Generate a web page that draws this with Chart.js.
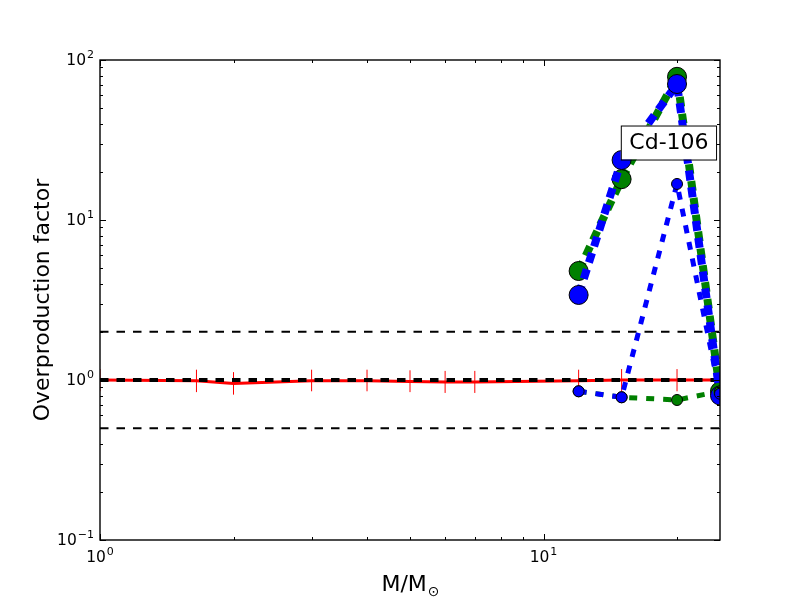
<!DOCTYPE html>
<html>
<head>
<meta charset="utf-8">
<script src="https://cdn.jsdelivr.net/npm/chart.js@4.4.1/dist/chart.umd.min.js"></script>
<style>
  body { margin: 0; background: #fff; }
</style>
</head>
<body>
<canvas id="chart" width="800" height="600"></canvas>
<script>
// solar reference curve (red) with error bars
const masses = [1, 1.65, 2, 3, 4, 5, 6, 7, 12, 15, 20, 25];
const solarRatio = [1.0, 0.99, 0.95, 0.99, 0.99, 0.98, 0.97, 0.97, 0.99, 1.0, 1.0, 1.0];
const solarLow = [0.85, 0.84, 0.81, 0.85, 0.85, 0.84, 0.83, 0.83, 0.85, 0.85, 0.85, 0.85];
const solarHigh = [1.17, 1.16, 1.12, 1.16, 1.16, 1.15, 1.14, 1.14, 1.16, 1.17, 1.17, 1.17];

// massive star models
const modelMasses = [12, 15, 20, 25];
const greenLarge = [4.8, 18.0, 78.5, 0.85];
const blueLarge = [3.4, 23.7, 70.8, 0.80];
const greenSmall = [0.85, 0.78, 0.75, 0.85];
const blueSmall = [0.85, 0.78, 16.8, 0.82];

// horizontal guide levels
const refLevels = [2, 1, 0.5];

// axes
const xRange = [1, 25];
const yRange = [0.1, 100];
const xTicks = [1, 10];
const yTicks = [0.1, 1, 10, 100];
const isotope = 'Cd-106';

const FONT = '"DejaVu Sans", sans-serif';

function pts(xs, ys) {
    return xs.map((x, i) => ({x: x, y: ys[i]}));
}

// datasets listed bottom to top
let layers = [];
layers.push({
    data: pts(masses, solarRatio),
    borderColor: '#ff0000', borderWidth: 3, pointRadius: 0
});
masses.forEach((m, i) => {
    layers.push({
        data: [{x: m, y: solarLow[i]}, {x: m, y: solarHigh[i]}],
        borderColor: '#ff0000', borderWidth: 1, pointRadius: 0
    });
});
refLevels.forEach(lv => {
    layers.push({
        data: [{x: xRange[0], y: lv}, {x: xRange[1], y: lv}],
        borderColor: '#000000', borderWidth: lv === 1 ? 4 : 2,
        borderDash: [8.5, 8], pointRadius: 0
    });
});
function model(ys, color, big) {
    return {
        data: pts(modelMasses, ys),
        borderColor: color,
        borderWidth: big ? 8 : 5,
        borderDash: big ? [10, 7] : [8, 9],
        pointRadius: big ? 9.5 : 5.5,
        pointBackgroundColor: color,
        pointBorderColor: '#000000',
        pointBorderWidth: 1
    };
}
layers.push(model(greenLarge, '#008000', true));
layers.push(model(blueLarge, '#0000ff', true));
layers.push(model(greenSmall, '#008000', false));
layers.push(model(blueSmall, '#0000ff', false));

layers.forEach((d, i) => {
    d.order = layers.length - i;
    d.clip = 0;
    d.tension = 0;
    d.fill = false;
});

function powLabel(ctx, exp, x, y, align) {
    const base = '10';
    const sup = exp < 0 ? '\u2212' + Math.abs(exp) : String(exp);
    ctx.font = '15.5px ' + FONT;
    const wb = ctx.measureText(base).width;
    ctx.font = '11px ' + FONT;
    const ws = ctx.measureText(sup).width;
    const w = wb + ws + 1;
    let left = align === 'right' ? x - w : x - w / 2;
    ctx.textAlign = 'left';
    ctx.textBaseline = 'alphabetic';
    ctx.font = '15.5px ' + FONT;
    ctx.fillText(base, left, y);
    ctx.font = '11px ' + FONT;
    ctx.fillText(sup, left + wb + 1, y - 7);
}

const axesPlugin = {
    id: 'mplAxes',
    afterDraw(chart) {
        const ctx = chart.ctx;
        const a = chart.chartArea;
        const xs = chart.scales.x, ys = chart.scales.y;
        ctx.save();
        ctx.strokeStyle = '#000';
        ctx.fillStyle = '#000';
        ctx.lineWidth = 1;

        // ticks on all four sides, pointing inward
        const tick = (p, len, vertical) => {
            ctx.beginPath();
            if (vertical) {
                ctx.moveTo(p, a.bottom); ctx.lineTo(p, a.bottom - len);
                ctx.moveTo(p, a.top); ctx.lineTo(p, a.top + len);
            } else {
                ctx.moveTo(a.left, p); ctx.lineTo(a.left + len, p);
                ctx.moveTo(a.right, p); ctx.lineTo(a.right - len, p);
            }
            ctx.stroke();
        };
        for (let e = -1; e <= 2; e++) {
            for (let k = 1; k <= 9; k++) {
                const v = k * Math.pow(10, e);
                if (v < yRange[0] || v > yRange[1]) continue;
                tick(Math.round(ys.getPixelForValue(v)) + 0.5, k === 1 ? 6 : 3, false);
            }
        }
        for (let e = 0; e <= 1; e++) {
            for (let k = 1; k <= 9; k++) {
                const v = k * Math.pow(10, e);
                if (v < xRange[0] || v > xRange[1]) continue;
                tick(Math.round(xs.getPixelForValue(v)) + 0.5, k === 1 ? 6 : 3, true);
            }
        }

        // frame
        ctx.lineWidth = 1.4;
        ctx.strokeRect(a.left, a.top, a.right - a.left, a.bottom - a.top);

        // tick labels
        yTicks.forEach(v => {
            powLabel(ctx, Math.round(Math.log10(v)), a.left - 6, ys.getPixelForValue(v) + 5, 'right');
        });
        xTicks.forEach(v => {
            powLabel(ctx, Math.round(Math.log10(v)), xs.getPixelForValue(v), a.bottom + 22, 'center');
        });

        // axis titles
        ctx.font = '22px ' + FONT;
        ctx.textBaseline = 'alphabetic';
        const xt = 'M/M';
        const wt = ctx.measureText(xt).width;
        ctx.font = '14px ' + FONT;
        const wo = ctx.measureText('\u2299').width;
        const cx = (a.left + a.right) / 2;
        const tx = cx - (wt + wo) / 2;
        ctx.font = '22px ' + FONT;
        ctx.textAlign = 'left';
        ctx.fillText(xt, tx, 591);
        ctx.font = '14px ' + FONT;
        ctx.fillText('\u2299', tx + wt + 1, 596);

        ctx.save();
        ctx.translate(49, (a.top + a.bottom) / 2);
        ctx.rotate(-Math.PI / 2);
        ctx.font = '22px ' + FONT;
        ctx.textAlign = 'center';
        ctx.fillText('Overproduction factor', 0, 0);
        ctx.restore();

        // isotope label box
        const bx = a.left + (a.right - a.left) * 0.840;
        const by = a.top + (a.bottom - a.top) * 0.1365;
        ctx.font = '22px ' + FONT;
        const tw = ctx.measureText(isotope).width;
        const bw = tw + 16, bh = 34;
        ctx.fillStyle = '#fff';
        ctx.fillRect(bx, by, bw, bh);
        ctx.lineWidth = 1;
        ctx.strokeStyle = '#000';
        ctx.strokeRect(bx + 0.5, by + 0.5, bw, bh);
        ctx.fillStyle = '#000';
        ctx.textAlign = 'center';
        ctx.textBaseline = 'middle';
        ctx.fillText(isotope, bx + bw / 2 + 0.5, by + bh / 2 + 1);
        ctx.restore();
    }
};

new Chart(document.getElementById('chart'), {
    type: 'line',
    data: { datasets: layers },
    options: {
        responsive: false,
        animation: false,
        layout: { padding: { left: 100, right: 80, top: 60, bottom: 60 } },
        plugins: { legend: { display: false }, tooltip: { enabled: false } },
        scales: {
            x: { type: 'logarithmic', min: xRange[0], max: xRange[1], display: false },
            y: { type: 'logarithmic', min: yRange[0], max: yRange[1], display: false }
        }
    },
    plugins: [axesPlugin]
});
</script>
</body>
</html>
